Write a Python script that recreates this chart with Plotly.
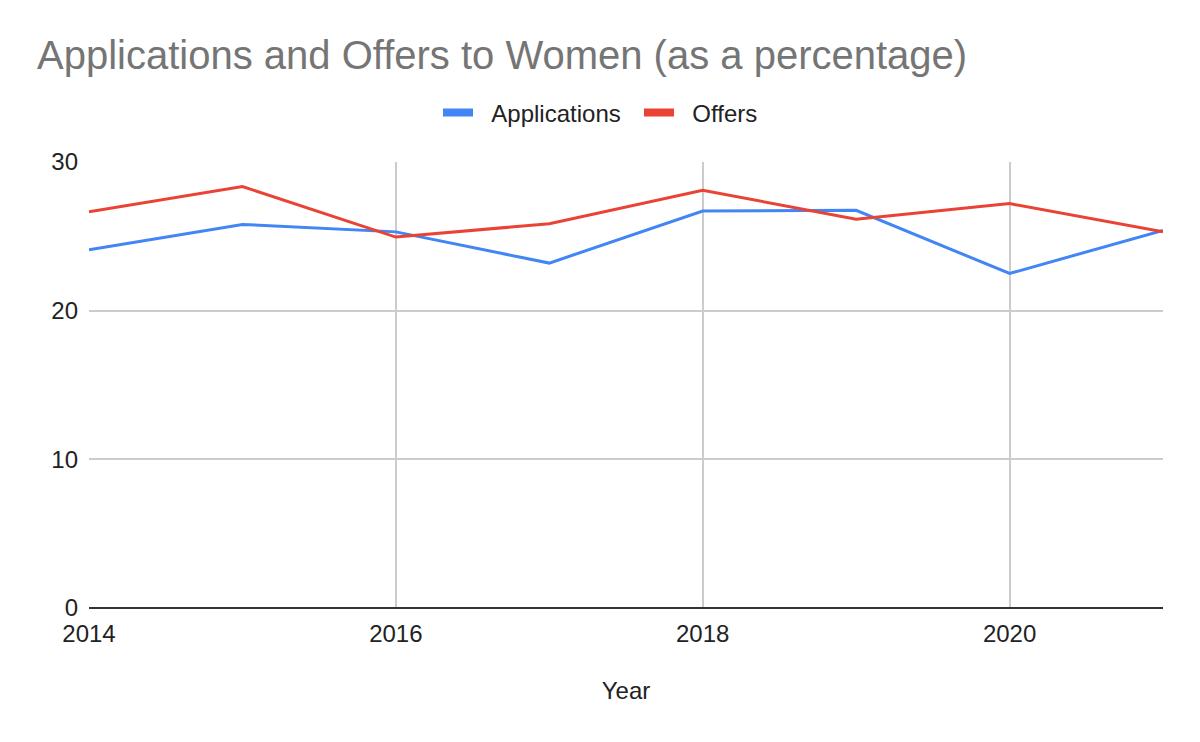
import plotly.graph_objects as go

years = [2014, 2015, 2016, 2017, 2018, 2019, 2020, 2021]
applications = [24.1, 25.8, 25.3, 23.2, 26.7, 26.75, 22.5, 25.4]
offers = [26.65, 28.35, 24.95, 25.85, 28.1, 26.15, 27.2, 25.3]
series_names = ["Applications", "Offers"]
series_colors = ["#4285F4", "#EA4335"]

W, H = 1200, 742
OFF = 8  # page body offset

fig = go.Figure()
for name, vals, col in zip(series_names, [applications, offers], series_colors):
    fig.add_trace(go.Scatter(x=years, y=vals, mode="lines", name=name,
                             line=dict(color=col, width=3), showlegend=False,
                             legendgroup=name))
# legend entries with the thicker swatch look
for name, col in zip(series_names, series_colors):
    fig.add_trace(go.Scatter(x=[None], y=[None], mode="lines",
                             name="\u00a0\u00a0" + name,
                             line=dict(color=col, width=8), legendgroup=name,
                             hoverinfo="skip"))

fig.update_layout(
    width=W, height=H,
    paper_bgcolor="white", plot_bgcolor="white",
    margin=dict(l=89 - OFF, r=37 + OFF, t=162 - OFF, b=134 + OFF),
    font=dict(family="Liberation Sans, Arial, sans-serif", color="#222222", size=24),
    title=dict(text="Applications and Offers to Women (as a percentage)",
               x=(37 - OFF) / W, xref="container", xanchor="left",
               y=1 - (55 - OFF) / H, yref="container", yanchor="middle",
               font=dict(size=40, color="#757575")),
    legend=dict(orientation="h", xref="container", x=(639 - OFF) / W, xanchor="center",
                yref="container", y=1 - (113 - OFF) / H, yanchor="middle",
                font=dict(size=24, color="#222222"), itemwidth=30,
                entrywidth=156, entrywidthmode="pixels"),
    showlegend=True,
)
fig.update_xaxes(range=[2014, 2021], tick0=2014, dtick=2, showgrid=True,
                 gridcolor="#cccccc", gridwidth=1.5, zeroline=False,
                 showline=False, ticks="", ticklabelstandoff=9,
                 title=dict(text="Year", font=dict(size=24), standoff=36),
                 tickfont=dict(size=24))
fig.update_yaxes(range=[0, 30], tickvals=[0, 10, 20, 30], showgrid=True,
                 gridcolor="#cccccc", gridwidth=1.5, zeroline=True, zerolinecolor="#333333",
                 zerolinewidth=1.5, showline=False, ticks="", ticklabelstandoff=10,
                 tickfont=dict(size=24))

fig.write_html("out.html")
